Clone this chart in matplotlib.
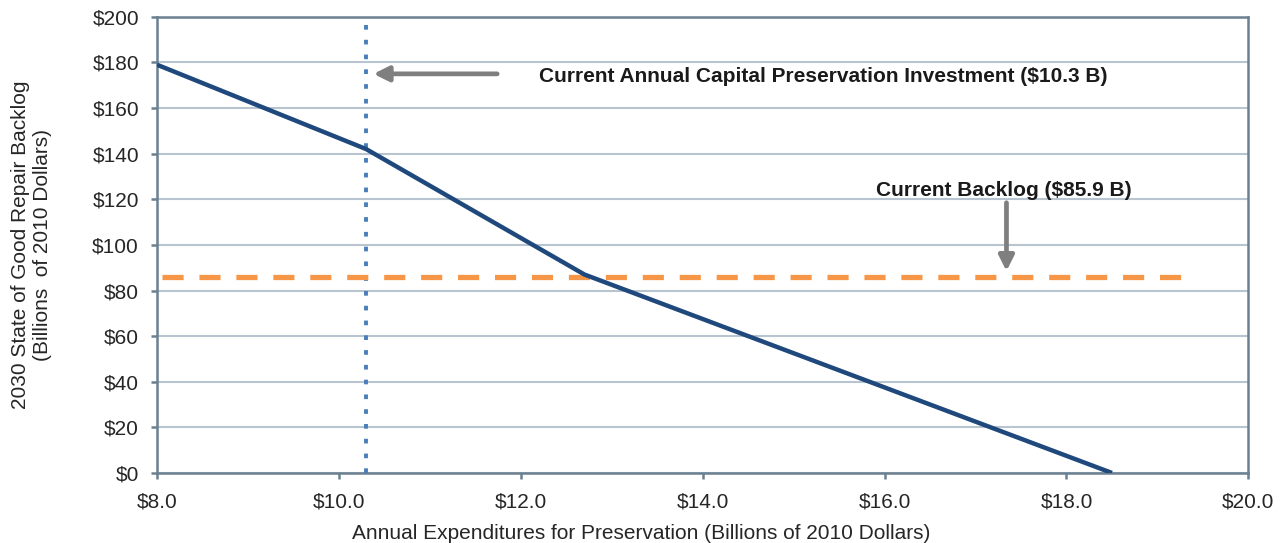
import matplotlib.pyplot as plt
from matplotlib.ticker import FuncFormatter

plt.rcParams['font.family'] = ['Liberation Sans', 'DejaVu Sans']

# investment level (billions) vs 2030 backlog (billions)
spend = [8.0, 10.3, 12.7, 18.5]
backlog = [179, 142, 87, 0]

current_invest = 10.3
current_backlog = 85.9
backlog_span = [8.06, 19.38]

x_ticks = [8, 10, 12, 14, 16, 18, 20]
y_ticks = [0, 20, 40, 60, 80, 100, 120, 140, 160, 180, 200]

FS = 15

fig = plt.figure(figsize=(12.87, 5.43), dpi=100)
ax = fig.add_axes([0.122, 0.129, 0.848, 0.840])

spine_c = "#6b8191"
for s in ax.spines.values():
    s.set_color(spine_c)
    s.set_linewidth(1.8)

ax.set_xlim(8, 20)
ax.set_ylim(0, 200)
ax.set_xticks(x_ticks)
ax.set_yticks(y_ticks)
ax.xaxis.set_major_formatter(FuncFormatter(lambda v, p: f"${v:.1f}"))
ax.yaxis.set_major_formatter(FuncFormatter(lambda v, p: f"${v:.0f}"))
ax.tick_params(axis="both", colors=spine_c, labelcolor="#262626", labelsize=FS,
               length=4, width=1.8, direction="out")
ax.tick_params(axis="x", pad=10)
ax.tick_params(axis="y", pad=9)
ax.grid(axis="y", color="#b8c5d0", linewidth=1.5)
ax.set_axisbelow(True)

ax.plot([current_invest, current_invest], [0, 197.5], color="#4a7ebb",
        linewidth=2.8, dashes=(1.2, 2.6), zorder=3)
ax.plot(backlog_span, [current_backlog, current_backlog], color="#f79646",
        linewidth=3.8, dashes=(4.0, 3.0), zorder=3)
ax.plot(spend, backlog, color="#1f497d", linewidth=3.2, zorder=4,
        solid_capstyle="butt")

arrow = dict(arrowstyle="-|>,head_length=0.9,head_width=0.45", color="#7f7f7f",
             lw=3.4, shrinkA=0, shrinkB=0)
ax.annotate("", xy=(10.38, 175), xytext=(11.74, 175), arrowprops=arrow)
ax.annotate("", xy=(17.34, 88.5), xytext=(17.34, 118.5), arrowprops=arrow)

ax.text(12.2, 173.7, "Current Annual Capital Preservation Investment ($10.3 B)",
        fontsize=FS, fontweight="bold", color="#1a1a1a", va="center")
ax.text(15.9, 123.7, "Current Backlog ($85.9 B)",
        fontsize=FS, fontweight="bold", color="#1a1a1a", va="center")

ax.set_xlabel("Annual Expenditures for Preservation (Billions of 2010 Dollars)",
              fontsize=FS, color="#262626")
ax.set_ylabel("2030 State of Good Repair Backlog\n(Billions  of 2010 Dollars)",
              fontsize=FS, color="#262626")
ax.xaxis.set_label_coords(0.444, -0.113)
ax.yaxis.set_label_coords(-0.096, 0.5)

fig.savefig("out.png", dpi=100)
